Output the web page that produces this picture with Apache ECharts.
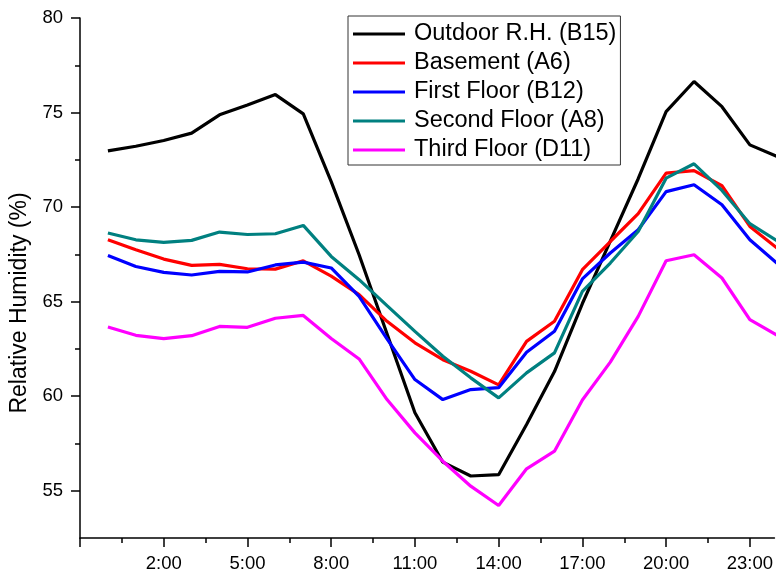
<!DOCTYPE html>
<html>
<head>
<meta charset="utf-8">
<script src="https://cdn.jsdelivr.net/npm/echarts@6/dist/echarts.min.js"></script>
<style>
  html, body { margin: 0; padding: 0; background: #fff; }
  #chart { width: 776px; height: 576px; }
</style>
</head>
<body>
<div id="chart"></div>
<script>
const hours = [0,1,2,3,4,5,6,7,8,9,10,11,12,13,14,15,16,17,18,19,20,21,22,23,24];
const seriesNames = ['Outdoor R.H. (B15)', 'Basement (A6)', 'First Floor (B12)', 'Second Floor (A8)', 'Third Floor (D11)'];
const outdoor  = [72.97,73.22,73.52,73.91,74.88,75.40,75.95,74.93,71.35,67.48,63.30,59.12,56.51,55.78,55.85,58.50,61.30,64.90,68.20,71.50,75.05,76.64,75.31,73.29,72.66];
const basement = [68.27,67.74,67.25,66.92,66.97,66.74,66.72,67.16,66.35,65.37,63.96,62.82,61.93,61.32,60.60,62.90,63.96,66.69,68.18,69.65,71.80,71.93,71.13,68.98,67.80];
const firstFl  = [67.44,66.86,66.55,66.41,66.60,66.57,66.94,67.09,66.78,65.28,63.03,60.88,59.82,60.35,60.45,62.32,63.43,66.20,67.57,68.80,70.82,71.18,70.12,68.27,67.00];
const secondFl = [68.63,68.27,68.13,68.24,68.68,68.55,68.59,69.03,67.39,66.16,64.79,63.43,62.11,60.97,59.91,61.23,62.29,65.54,67.04,68.71,71.53,72.29,70.88,69.12,68.20];
const thirdFl  = [63.66,63.22,63.04,63.20,63.69,63.64,64.12,64.27,63.05,61.97,59.82,58.06,56.56,55.24,54.22,56.16,57.09,59.80,61.80,64.22,67.16,67.48,66.25,64.05,63.20];
const colors = ['#000000', '#ff0000', '#0000ff', '#008080', '#ff00ff'];

const xMajorTicks = [-1,2,5,8,11,14,17,20,23];
const xTickLabels = [2,5,8,11,14,17,20,23];
const xMinorTicks = [0.5,3.5,6.5,9.5,12.5,15.5,18.5,21.5];
const yMajorTicks = [55,60,65,70,75,80];
const yMinorTicks = [57.5,62.5,67.5,72.5,77.5];

const FONT = 'Liberation Sans, Arial, sans-serif';
const allData = [outdoor, basement, firstFl, secondFl, thirdFl];
const X_MIN = -1, X_MAX = 23.88;

const chart = echarts.init(document.getElementById('chart'), null, { renderer: 'canvas' });
const axisLineStyle = { color: '#000', width: 1.5 };

chart.setOption({
  animation: false,
  backgroundColor: '#fff',
  grid: { left: 80, top: 18, right: 0, height: 520, containLabel: false },
  legend: {
    orient: 'vertical',
    left: 348, top: 16,
    padding: [6, 4, 3, 5],
    borderColor: '#333', borderWidth: 1,
    itemWidth: 52, itemHeight: 3, itemGap: 5,
    icon: 'rect',
    textStyle: { fontFamily: FONT, fontSize: 23.5, color: '#000', padding: [0, 0, 0, 4] },
    data: seriesNames
  },
  xAxis: [
    {
      type: 'value', min: X_MIN, max: X_MAX, position: 'bottom',
      axisLine: { show: true, onZero: false, lineStyle: axisLineStyle },
      axisTick: { show: true, length: 9, lineStyle: axisLineStyle, customValues: xMajorTicks },
      axisLabel: { customValues: xTickLabels, formatter: v => v + ':00', margin: 16,
        fontFamily: FONT, fontSize: 18.5, color: '#000' },
      splitLine: { show: false }
    },
    {
      type: 'value', min: X_MIN, max: X_MAX, position: 'bottom',
      axisLine: { show: false, onZero: false },
      axisTick: { show: true, length: 5, lineStyle: axisLineStyle, customValues: xMinorTicks },
      axisLabel: { show: false },
      splitLine: { show: false }
    }
  ],
  yAxis: [
    {
      type: 'value', min: 52.5, max: 80, position: 'left',
      name: 'Relative Humidity (%)', nameLocation: 'middle', nameGap: 37, nameRotate: 90,
      nameTextStyle: { fontFamily: FONT, fontSize: 23, color: '#000', padding: [0, 50, 0, 0] },
      axisLine: { show: true, onZero: false, lineStyle: axisLineStyle },
      axisTick: { show: true, length: 9, lineStyle: axisLineStyle, customValues: yMajorTicks },
      axisLabel: { customValues: yMajorTicks, margin: 17, fontFamily: FONT, fontSize: 18.5, color: '#000' },
      splitLine: { show: false }
    },
    {
      type: 'value', min: 52.5, max: 80, position: 'left',
      axisLine: { show: false, onZero: false },
      axisTick: { show: true, length: 5, lineStyle: axisLineStyle, customValues: yMinorTicks },
      axisLabel: { show: false },
      splitLine: { show: false }
    }
  ],
  series: seriesNames.map((name, i) => ({
    name: name,
    type: 'line',
    xAxisIndex: 0, yAxisIndex: 0,
    symbol: 'none',
    color: colors[i],
    lineStyle: { color: colors[i], width: 3.2 },
    data: hours.map((h, j) => [h, allData[i][j]])
  }))
});
</script>
</body>
</html>
